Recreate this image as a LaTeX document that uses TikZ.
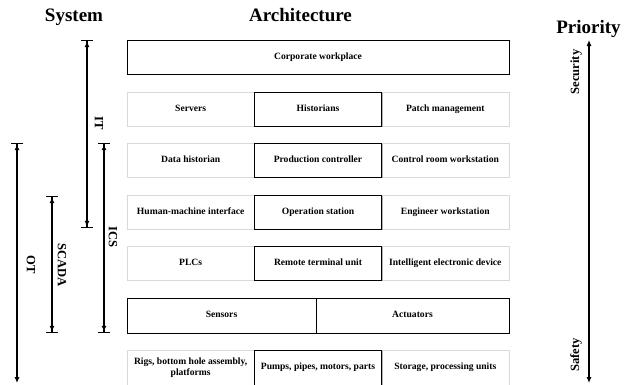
\documentclass[tikz,border=0pt]{standalone}
\usepackage{fontspec}
\setmainfont{Liberation Serif}
\usetikzlibrary{arrows.meta,shadows}
\newcommand\boxfnt{\fontsize{9.6}{11}\selectfont\bfseries}
\newcommand\titlefnt{\fontsize{19}{22}\selectfont\bfseries}
\newcommand\lblfnt{\fontsize{12.6}{14}\selectfont\bfseries}
\begin{document}
\begin{tikzpicture}[x=1pt,y=-1pt,
  box/.style={rectangle, minimum height=34pt, inner sep=0pt, font=\boxfnt, align=center, fill=white},
  oneline/.style={text height=6.8pt, text depth=2pt},
  sidebox/.style={box, draw=gray!30, line width=0.8pt, drop shadow={shadow xshift=0.9pt, shadow yshift=-0.9pt, opacity=1, fill=gray!40}},
  corebox/.style={box, draw=black, line width=0.9pt, drop shadow={shadow xshift=0.9pt, shadow yshift=-0.9pt, opacity=1, fill=gray!60}},
  third/.style={minimum width=127.33pt},
  title/.style={font=\titlefnt, anchor=base, inner sep=0pt},
  lbl/.style={font=\lblfnt, inner sep=0pt},
  span/.style={line width=1.1pt, {Bar[width=12pt,line width=1.1pt]Latex[length=6pt,width=5pt]}-{Latex[length=6pt,width=5pt]Bar[width=12pt,line width=1.1pt]}},
  spanopen/.style={line width=1.1pt, {Bar[width=12pt,line width=1.1pt]Latex[length=6pt,width=5pt]}-{Latex[length=6pt,width=5pt]}},
  prio/.style={line width=1.1pt, {Latex[length=6pt,width=5pt]}-{Latex[length=6pt,width=5pt]}}
]
\useasboundingbox (0,0) rectangle (624,384);

% titles
\node[title] (tsys) at (74,21) {System};
\node[title] (tarch) at (300.5,21) {Architecture};
\node[title] (tprio) at (588.5,33) {Priority};

% row 1
\node[corebox, oneline, minimum width=382pt] (corp) at (318,57) {Corporate workplace};
% row 2
\node[sidebox, oneline, third] (servers) at (190.67,109) {Servers};
\node[sidebox, oneline, third] (patch) at (445.33,109) {Patch management};
\node[corebox, oneline, third] (hist) at (318,109) {Historians};
% row 3
\node[sidebox, oneline, third] (dhist) at (190.67,160) {Data historian};
\node[sidebox, oneline, third] (crw) at (445.33,160) {Control room workstation};
\node[corebox, oneline, third] (prod) at (318,160) {Production controller};
% row 4
\node[sidebox, oneline, third] (hmi) at (190.67,212) {Human-machine interface};
\node[sidebox, oneline, third] (eng) at (445.33,212) {Engineer workstation};
\node[corebox, oneline, third] (ops) at (318,212) {Operation station};
% row 5
\node[sidebox, oneline, third] (plc) at (190.67,263) {PLCs};
\node[sidebox, oneline, third] (ied) at (445.33,263) {Intelligent electronic device};
\node[corebox, oneline, third] (rtu) at (318,263) {Remote terminal unit};
% row 6
\node[corebox, oneline, minimum width=189pt, minimum height=35pt] (sens) at (221.5,315.5) {Sensors};
\node[corebox, oneline, minimum width=193pt, minimum height=35pt] (act) at (412.5,315.5) {Actuators};
% row 7
\node[sidebox, third, minimum height=35pt] (rigs) at (190.67,367.5) {Rigs, bottom hole assembly,\\platforms};
\node[sidebox, oneline, third, minimum height=35pt] (stor) at (445.33,367.5) {Storage, processing units};
\node[corebox, oneline, third, minimum height=35pt] (pump) at (318,367.5) {Pumps, pipes, motors, parts};

% spans
\coordinate (itT) at (87,40);   \coordinate (itB) at (87,228);
\coordinate (icsT) at (104,143); \coordinate (icsB) at (104,333);
\coordinate (scT) at (52,196);  \coordinate (scB) at (52,333);
\coordinate (otT) at (17,143);  \coordinate (otB) at (17,383);
\coordinate (prT) at (589,40);  \coordinate (prB) at (589,383);
\draw[span] (itT) -- (itB);
\draw[span] (icsT) -- (icsB);
\draw[span] (scT) -- (scB);
\draw[spanopen] (otT) -- (otB);
\draw[prio] (prT) -- (prB);

\node[lbl, rotate=-90] (lit) at (99,123) {IT};
\node[lbl, rotate=-90] (lics) at (113,237) {ICS};
\node[lbl, rotate=-90] (lsc) at (62,265) {SCADA};
\node[lbl, rotate=-90] (lot) at (31,265) {OT};
\node[lbl, rotate=90] (lsec) at (576,72) {Security};
\node[lbl, rotate=90] (lsaf) at (576,355) {Safety};
\end{tikzpicture}
\end{document}
